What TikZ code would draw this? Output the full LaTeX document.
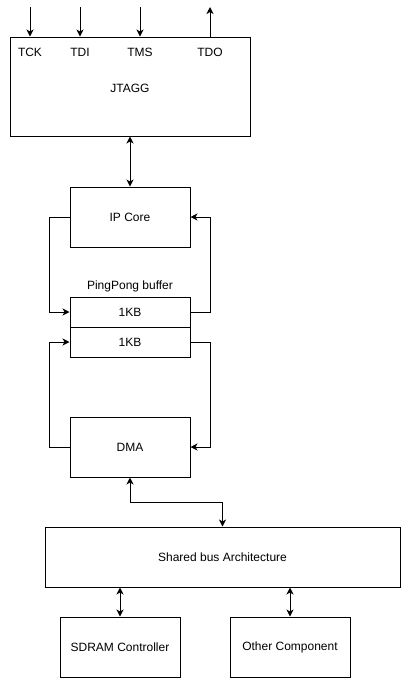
\documentclass[tikz,border=0pt]{standalone}
\usepackage{fontspec}
\setmainfont{Liberation Sans}
\usetikzlibrary{arrows.meta}
\begin{document}
\begin{tikzpicture}[x=1pt,y=1pt,
  box/.style={draw, line width=1pt, inner sep=0pt, font=\fontsize{12}{14}\selectfont},
  lbl/.style={inner sep=0pt, font=\fontsize{12}{14}\selectfont},
  conn/.style={line width=1pt, -{Stealth[length=7pt,width=7pt,inset=2pt]}},
  bconn/.style={line width=1pt, {Stealth[length=7pt,width=7pt,inset=2pt]}-{Stealth[length=7pt,width=7pt,inset=2pt]}}]
\useasboundingbox (0,0) rectangle (401,-678);
% boxes
\node[box, minimum width=240pt, minimum height=99pt] (jtag) at (130,-86.5) {};
\node[lbl] (jt) at (130,-88) {JTAGG};
\node[lbl] (tck) at (30,-52) {TCK};
\node[lbl] (tdi) at (80,-52) {TDI};
\node[lbl] (tms) at (140,-52) {TMS};
\node[lbl] (tdo) at (210,-52) {TDO};
\node[box, minimum width=120pt, minimum height=60pt] (ip) at (130,-217) {IP Core};
\node[lbl] (pp) at (130,-286) {PingPong buffer};
\node[box, minimum width=120pt, minimum height=30pt] (b1) at (130,-312) {1KB};
\node[box, minimum width=120pt, minimum height=30pt] (b2) at (130,-342) {1KB};
\node[box, minimum width=120pt, minimum height=60pt] (dma) at (130,-447) {DMA};
\node[box, minimum width=355pt, minimum height=60pt] (bus) at (222.5,-557) {Shared bus Architecture};
\node[box, minimum width=120pt, minimum height=60pt] (sdram) at (120,-647) {SDRAM Controller};
\node[box, minimum width=120pt, minimum height=60pt] (oth) at (290,-647) {Other Component};
% jtag pins
\coordinate (ptck) at (30,-7);
\coordinate (ptdi) at (80,-7);
\coordinate (ptms) at (140,-7);
\coordinate (ptdo) at (210,-7);
\draw[conn] (ptck) -- (ptck |- jtag.north);
\draw[conn] (ptdi) -- (ptdi |- jtag.north);
\draw[conn] (ptms) -- (ptms |- jtag.north);
\draw[conn] (ptdo |- jtag.north) -- (ptdo);
% connections
\draw[bconn] (jtag.south) -- (ip.north);
\draw[conn] (ip.west) -- ++(-20,0) |- (b1.west);
\draw[conn] (b1.east) -- ++(20,0) |- (ip.east);
\draw[conn] (dma.west) -- ++(-20,0) |- (b2.west);
\draw[conn] (b2.east) -- ++(20,0) |- (dma.east);
\draw[bconn] (dma.south) -- ++(0,-25) -| (bus.north);
\draw[bconn] (bus.south -| sdram) -- (sdram.north);
\draw[bconn] (bus.south -| oth) -- (oth.north);
\end{tikzpicture}
\end{document}
